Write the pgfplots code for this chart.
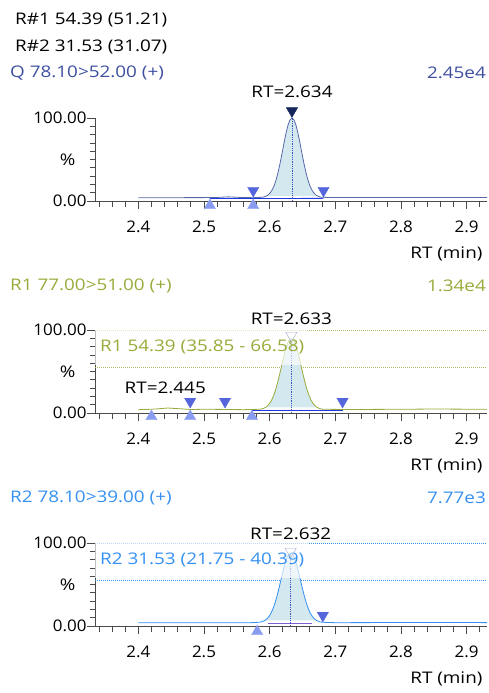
\documentclass[border=0pt]{standalone}
\usepackage{fontspec}
\setmainfont{Open Sans}[FakeStretch=1.18]
\newfontfamily\tickfont{Open Sans}[FakeStretch=1.06]
\usepackage{pgfplots}
\usepackage{pgfplotstable}
\pgfplotsset{compat=1.18}

\definecolor{qtitle}{HTML}{3D4F9F}
\definecolor{qline}{HTML}{5868A8}
\definecolor{rgreen}{HTML}{98AB3A}
\definecolor{rblue}{HTML}{3590F2}
\definecolor{pkfill}{HTML}{D4E8F0}
\definecolor{tridn}{HTML}{5566DD}
\definecolor{triup}{HTML}{8A9CF0}
\definecolor{navy}{HTML}{14265C}
\definecolor{axgray}{HTML}{4A4A4A}
\definecolor{intblue}{HTML}{2038E0}
\definecolor{intpurp}{HTML}{7A60D0}
\definecolor{rtline}{HTML}{3A55C0}
\definecolor{hollow}{HTML}{A0AAC8}

\newcommand\fs{\fontsize{16pt}{19pt}\selectfont}

% Q trace (78.10>52.00)
\pgfplotstableread{
x y
2.400 4.0
2.450 4.0
2.500 4.1
2.520 4.3
2.537 5.0
2.555 4.3
2.575 4.0
2.589 4.5
2.592 5.1
2.595 6.0
2.598 7.5
2.601 10.0
2.604 13.7
2.607 18.9
2.610 26.1
2.613 35.2
2.616 46.0
2.619 58.1
2.622 70.5
2.625 82.1
2.628 91.6
2.631 97.8
2.634 100
2.637 97.8
2.640 91.6
2.643 82.1
2.646 70.5
2.649 58.1
2.652 46.0
2.655 35.2
2.658 26.1
2.661 18.9
2.664 13.7
2.667 10.0
2.670 7.5
2.673 6.0
2.676 5.1
2.679 4.5
2.700 4.1
2.800 4.3
2.931 4.2
}\qtrace

% R1 trace (77.00>51.00)
\pgfplotstableread{
x y
2.400 4.0
2.420 4.5
2.445 6.0
2.470 4.8
2.480 4.2
2.500 4.5
2.535 4.3
2.560 4.0
2.585 4.5
2.588 5.0
2.591 5.7
2.594 6.9
2.597 8.8
2.600 11.6
2.603 15.6
2.606 21.0
2.609 27.9
2.612 36.3
2.615 45.9
2.618 56.2
2.621 66.4
2.624 75.8
2.627 83.4
2.630 88.3
2.633 90.0
2.636 88.3
2.639 83.4
2.642 75.8
2.645 66.4
2.648 56.2
2.651 45.9
2.654 36.3
2.657 27.9
2.660 21.0
2.663 15.6
2.666 11.6
2.669 8.8
2.672 6.9
2.675 5.7
2.678 5.0
2.681 4.5
2.720 4.2
2.800 4.5
2.850 4.8
2.931 4.5
}\ronetrace

% R2 trace (78.10>39.00)
\pgfplotstableread{
x y
2.400 4.0
2.500 4.0
2.570 4.0
2.584 4.5
2.587 4.9
2.590 5.7
2.593 6.9
2.596 8.7
2.599 11.5
2.602 15.4
2.605 20.6
2.608 27.4
2.611 35.5
2.614 44.9
2.617 54.9
2.620 65.0
2.623 74.2
2.626 81.5
2.629 86.3
2.632 88.0
2.635 86.3
2.638 81.5
2.641 74.2
2.644 65.0
2.647 54.9
2.650 44.9
2.653 35.5
2.656 27.4
2.659 20.6
2.662 15.4
2.665 11.5
2.668 8.7
2.671 6.9
2.674 5.7
2.677 4.9
2.680 4.5
2.700 4.0
2.800 4.2
2.931 4.1
}\rtwotrace

\pgfplotsset{chrom/.style={
  scale only axis, width=392pt, height=83pt,
  xmin=2.334, xmax=2.931, ymin=0, ymax=100,
  axis x line*=bottom, axis y line*=left,
  axis line style={axgray, line width=0.8pt, -},
  tick align=outside,
  major tick length=8pt, minor tick length=5.5pt,
  tick style={axgray, line width=0.8pt},
  xtick={2.4,2.5,2.6,2.7,2.8,2.9},
  xticklabels={2.4,2.5,2.6,2.7,2.8,2.9},
  minor xtick={2.34,2.36,2.38,2.42,2.44,2.46,2.48,2.52,2.54,2.56,2.58,2.62,2.64,2.66,2.68,2.72,2.74,2.76,2.78,2.82,2.84,2.86,2.88,2.92},
  ytick={0,100}, yticklabels={0.00,100.00},
  minor ytick={10,20,30,40,50,60,70,80,90},
  tick label style={font=\tickfont\fs, text=black},
  xticklabel style={yshift=-8pt},
  yticklabel style={xshift=3pt},
  ylabel={\%}, xlabel={RT (min)},
  every axis y label/.style={at={(axis description cs:0,0.5)}, anchor=east, xshift=-16pt, font=\fs},
  every axis x label/.style={at={(axis description cs:1,0)}, anchor=east, yshift=-53pt, xshift=-1pt, font=\fs},
  clip=false,
  dn/.style={only marks, mark=triangle*, mark size=6.5pt, mark options={rotate=180}},
  up/.style={only marks, mark=triangle*, mark size=6.5pt},
}}

\begin{document}
\begin{tikzpicture}[font=\fs]
\useasboundingbox (0,0) rectangle (489pt,-693pt);

% ---- header of panel 1
\node[anchor=west, inner sep=0pt] at (15pt,-20pt) {R\#1 54.39 (51.21)};
\node[anchor=west, inner sep=0pt] at (15pt,-47pt) {R\#2 31.53 (31.07)};
\node[anchor=west, inner sep=0pt, text=qtitle] at (10pt,-73pt) {Q 78.10>52.00 (+)};
\node[anchor=east, inner sep=0pt, text=qtitle] at (486pt,-73pt) {2.45e4};

\begin{axis}[chrom, at={(95pt,-201pt)}, anchor=south west]
\addplot[fill=pkfill, draw=none] table[restrict x to domain=2.595:2.673] {\qtrace};
\addplot[qline, line width=0.8pt] table {\qtrace};
\addplot[intblue, line width=0.8pt] coordinates {(2.509,3.0) (2.575,3.0) (2.682,3.2)};
\addplot[rtline, densely dotted, line width=0.8pt] coordinates {(2.634,0) (2.634,100)};
\addplot[dn, fill=navy, draw=navy] coordinates {(2.634,108.5)};
\addplot[dn, fill=tridn, draw=tridn] coordinates {(2.575,12.6) (2.682,12.6)};
\addplot[up, fill=triup, draw=triup] coordinates {(2.509,-5.4) (2.575,-5.4)};
\node at (axis cs:2.634,100) [yshift=26pt] {RT=2.634};
\end{axis}

% ---- panel 2
\node[anchor=west, inner sep=0pt, text=rgreen] at (10pt,-286pt) {R1 77.00>51.00 (+)};
\node[anchor=east, inner sep=0pt, text=rgreen] at (486pt,-286pt) {1.34e4};

\begin{axis}[chrom, at={(95pt,-413pt)}, anchor=south west]
\addplot[rgreen!80, densely dotted, line width=1pt] coordinates {(2.334,100) (2.931,100)};
\addplot[rgreen!80, densely dotted, line width=1pt] coordinates {(2.334,55.4) (2.931,55.4)};
\addplot[fill=pkfill, draw=none] table[restrict x to domain=2.594:2.672] {\ronetrace};
\addplot[rgreen, line width=0.8pt] table {\ronetrace};
\addplot[intblue, line width=0.8pt] coordinates {(2.573,3.5) (2.711,3.5)};
\addplot[rtline, densely dotted, line width=0.8pt] coordinates {(2.633,0) (2.633,90)};
\node[anchor=west, fill=white, fill opacity=0.65, text opacity=1, text=rgreen, inner xsep=5pt, minimum height=36pt] at (rel axis cs:0,1) [yshift=-17pt] {R1 54.39 (35.85 - 66.58)};
\addplot[dn, fill=white, fill opacity=0.5, draw=hollow] coordinates {(2.633,93.4)};
\addplot[dn, fill=tridn, draw=tridn] coordinates {(2.479,13.9) (2.532,13.9) (2.711,13.9)};
\addplot[up, fill=triup, draw=triup] coordinates {(2.420,-4.2) (2.479,-4.2) (2.573,-4.2)};
\node at (axis cs:2.633,100) [yshift=11pt] {RT=2.633};
\node at (axis cs:2.441,30) {RT=2.445};
\end{axis}

% ---- panel 3
\node[anchor=west, inner sep=0pt, text=rblue] at (10pt,-498pt) {R2 78.10>39.00 (+)};
\node[anchor=east, inner sep=0pt, text=rblue] at (486pt,-498pt) {7.77e3};

\begin{axis}[chrom, at={(95pt,-626pt)}, anchor=south west]
\addplot[rblue, densely dotted, line width=1pt] coordinates {(2.334,100) (2.931,100)};
\addplot[rblue, densely dotted, line width=1pt] coordinates {(2.334,55.4) (2.931,55.4)};
\addplot[fill=pkfill, draw=none] table[restrict x to domain=2.593:2.671] {\rtwotrace};
\addplot[rblue, line width=0.8pt] table {\rtwotrace};
\addplot[intpurp, line width=0.8pt] coordinates {(2.598,3.2) (2.665,3.2)};
\addplot[rtline, densely dotted, line width=0.8pt] coordinates {(2.632,0) (2.632,88)};
\node[anchor=west, fill=white, fill opacity=0.65, text opacity=1, text=rblue, inner xsep=5pt, minimum height=36pt] at (rel axis cs:0,1) [yshift=-17pt] {R2 31.53 (21.75 - 40.39)};
\addplot[dn, fill=white, fill opacity=0.5, draw=hollow] coordinates {(2.632,89.8)};
\addplot[dn, fill=tridn, draw=tridn] coordinates {(2.681,12.7)};
\addplot[up, fill=triup, draw=triup] coordinates {(2.581,-6.6)};
\node at (axis cs:2.632,100) [yshift=9pt] {RT=2.632};
\end{axis}
\end{tikzpicture}
\end{document}
